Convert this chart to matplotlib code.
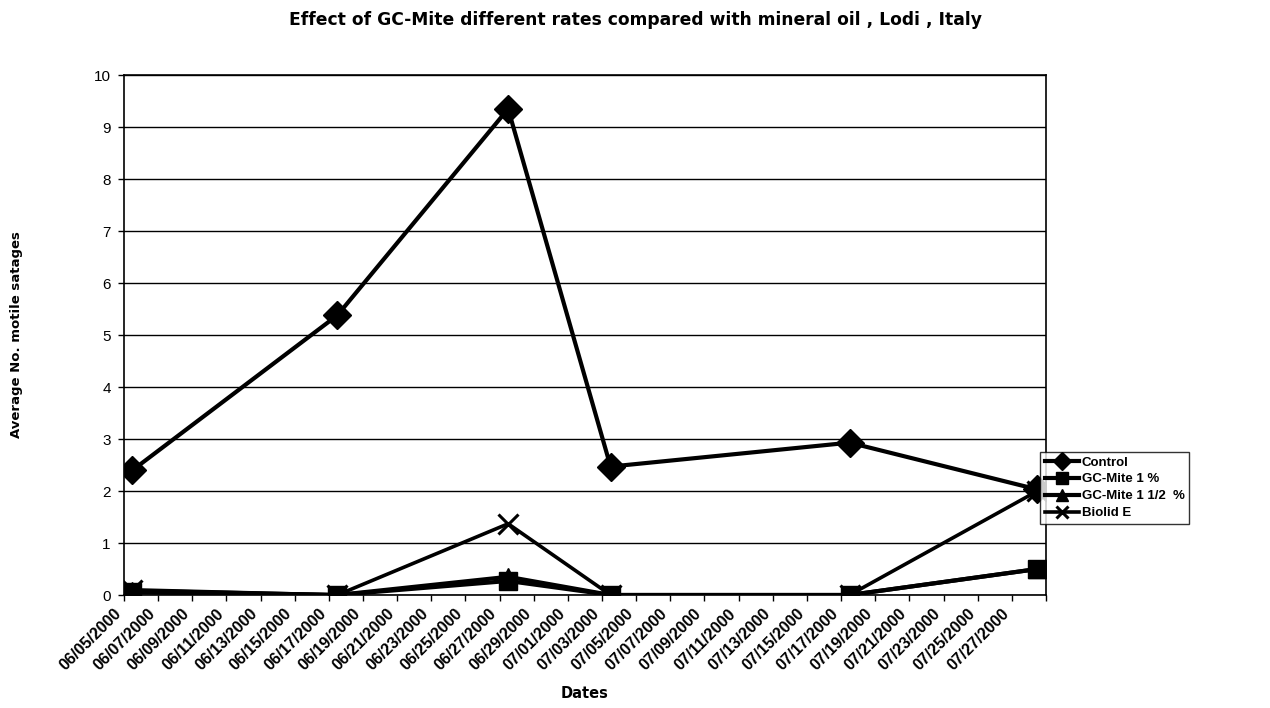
import matplotlib
matplotlib.use("Agg")
import matplotlib.pyplot as plt
import pandas as pd

plt.rcParams['font.family'] = ['Liberation Sans', 'DejaVu Sans']

# ---- data ----
dates = ['06/05/2000', '06/17/2000', '06/27/2000', '07/03/2000', '07/17/2000', '07/28/2000']
control = [2.40, 5.38, 9.35, 2.47, 2.93, 2.03]
gc_1 = [0.05, 0.00, 0.27, 0.00, 0.00, 0.50]
gc_1_5 = [0.08, 0.00, 0.35, 0.00, 0.00, 0.50]
biolid = [0.10, 0.00, 1.37, 0.00, 0.00, 2.00]

series_names = ['Control', 'GC-Mite 1 %', 'GC-Mite 1 1/2  %', 'Biolid E']

tick_labels = ['06/05/2000', '06/07/2000', '06/09/2000', '06/11/2000', '06/13/2000',
               '06/15/2000', '06/17/2000', '06/19/2000', '06/21/2000', '06/23/2000',
               '06/25/2000', '06/27/2000', '06/29/2000', '07/01/2000', '07/03/2000',
               '07/05/2000', '07/07/2000', '07/09/2000', '07/11/2000', '07/13/2000',
               '07/15/2000', '07/17/2000', '07/19/2000', '07/21/2000', '07/23/2000',
               '07/25/2000', '07/27/2000', '']

start = pd.Timestamp('2000-06-05')
end = pd.Timestamp('2000-07-29')
ndays = (end - start).days

day_idx = [(pd.to_datetime(d, format='%m/%d/%Y') - start).days + 0.5 for d in dates]

fig = plt.figure(figsize=(12.7, 7.08), dpi=100)
ax = fig.add_axes([0.0976, 0.1596, 0.726, 0.7344])

lw = 3.0
ax.plot(day_idx, control, color='black', lw=lw, marker='D', ms=14, label=series_names[0], zorder=5)
ax.plot(day_idx, gc_1, color='black', lw=lw, marker='s', ms=13.5, label=series_names[1], zorder=4)
ax.plot(day_idx, gc_1_5, color='black', lw=lw, marker='^', ms=13.5, label=series_names[2], zorder=3)
ax.plot(day_idx, biolid, color='black', lw=2.6, marker='x', ms=14, mew=2.2, label=series_names[3], zorder=2)

ax.set_xlim(0, ndays)
ax.set_ylim(0, 10)
ax.set_yticks(range(0, 11))
ax.set_xticks(range(0, ndays + 1, 2))
ax.set_xticklabels(tick_labels, rotation=45, ha='right', fontsize=11.5, fontweight='bold')
for t in ax.get_yticklabels():
    t.set_fontsize(11)
ax.yaxis.grid(True, color='black', lw=1.0)
ax.set_axisbelow(True)
for s in ax.spines.values():
    s.set_color('black')
    s.set_linewidth(1.2)
ax.tick_params(axis='both', direction='out', length=4, width=1, colors='black')
ax.tick_params(axis='y', pad=5.5)
ax.tick_params(axis='x', pad=4)

fig.text(0.5, 0.972, 'Effect of GC-Mite different rates compared with mineral oil , Lodi , Italy',
         ha='center', va='center', fontsize=12.3, fontweight='bold', family='DejaVu Sans')
fig.text(0.013, 0.527, 'Average No. motile satages', rotation=90, ha='center', va='center',
         fontsize=9.5, fontweight='bold', family='DejaVu Sans')
fig.text(0.4606, 0.02, 'Dates', ha='center', va='center', fontsize=10.5, fontweight='bold',
         family='DejaVu Sans')

leg = fig.legend(loc='upper left', bbox_to_anchor=(0.819, 0.362), frameon=True,
                 fancybox=False, edgecolor='black', fontsize=9.5, handlelength=2.6,
                 handletextpad=0.2, borderpad=0.35, labelspacing=0.35, markerscale=0.65,
                 borderaxespad=0)
leg.get_frame().set_linewidth(1.0)
for t in leg.get_texts():
    t.set_fontweight('bold')

fig.savefig('out.png', dpi=100)
